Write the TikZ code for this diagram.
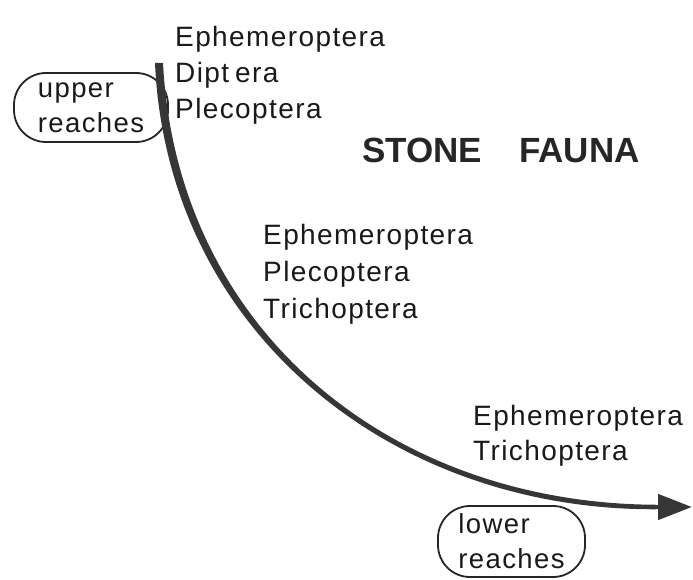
\documentclass[tikz,border=0pt]{standalone}
\usepackage{fontspec}
\setmainfont{Liberation Sans}
\newfontfamily\taxfont[LetterSpace=5]{Liberation Sans}
\usepackage{tikz}
\usetikzlibrary{arrows.meta,positioning}
\definecolor{ink}{HTML}{363636}
\tikzset{
taxon/.style={anchor=base west,inner sep=0pt,text=black!90,font=\taxfont\fontsize{28}{32}\selectfont},
reach/.style={draw=black!85,line width=1.8pt,rounded corners=32pt,align=left,inner sep=0pt,text=black!90,font=\taxfont\fontsize{27.5}{35}\selectfont},
fauna/.style={anchor=base west,inner sep=0pt,text=black!85,font=\bfseries\fontsize{35}{40}\selectfont},
river/.style={draw=ink,line cap=butt}
}
\begin{document}
\begin{tikzpicture}[x=1pt,y=-1pt]
\useasboundingbox (0,0) rectangle (693,580);
% reaches
\node[reach,minimum width=154pt,minimum height=69pt] (upper) at (91,107.5) {upper\\reaches};
\node[reach,minimum width=147pt,minimum height=71pt] (lower) at (511.5,541.5) {lower\\reaches};
% the river, tapering downstream
\coordinate (source) at (159,63);
\coordinate (bend) at (656,507);
\coordinate (mouth) at (692,507);
\fill[ink] (163,63) .. controls (177,330) and (390,503.5) .. (656,504.75)
  -- (656,509.25) .. controls (390,510.5) and (167,330) .. (155,63) -- cycle;
\draw[river,line width=4.5pt,-{Triangle[length=34pt,width=25pt]}] (bend) -- (mouth);
% stone fauna
\node[fauna] (title) at (362,163) {STONE\hspace{37pt}FAUNA};
\node[taxon] (u1) at (175,47) {Ephemeroptera};
\node[taxon] (u2) at (175,83) {Dipt\kern6pt era};
\node[taxon] (u3) at (175,119) {Plecoptera};
\node[taxon] (m1) at (263,244) {Ephemeroptera};
\node[taxon] (m2) at (263,281) {Plecoptera};
\node[taxon] (m3) at (263,318) {Trichoptera};
\node[taxon] (l1) at (473,425) {Ephemeroptera};
\node[taxon] (l2) at (473,460) {Trichoptera};
\end{tikzpicture}
\end{document}
